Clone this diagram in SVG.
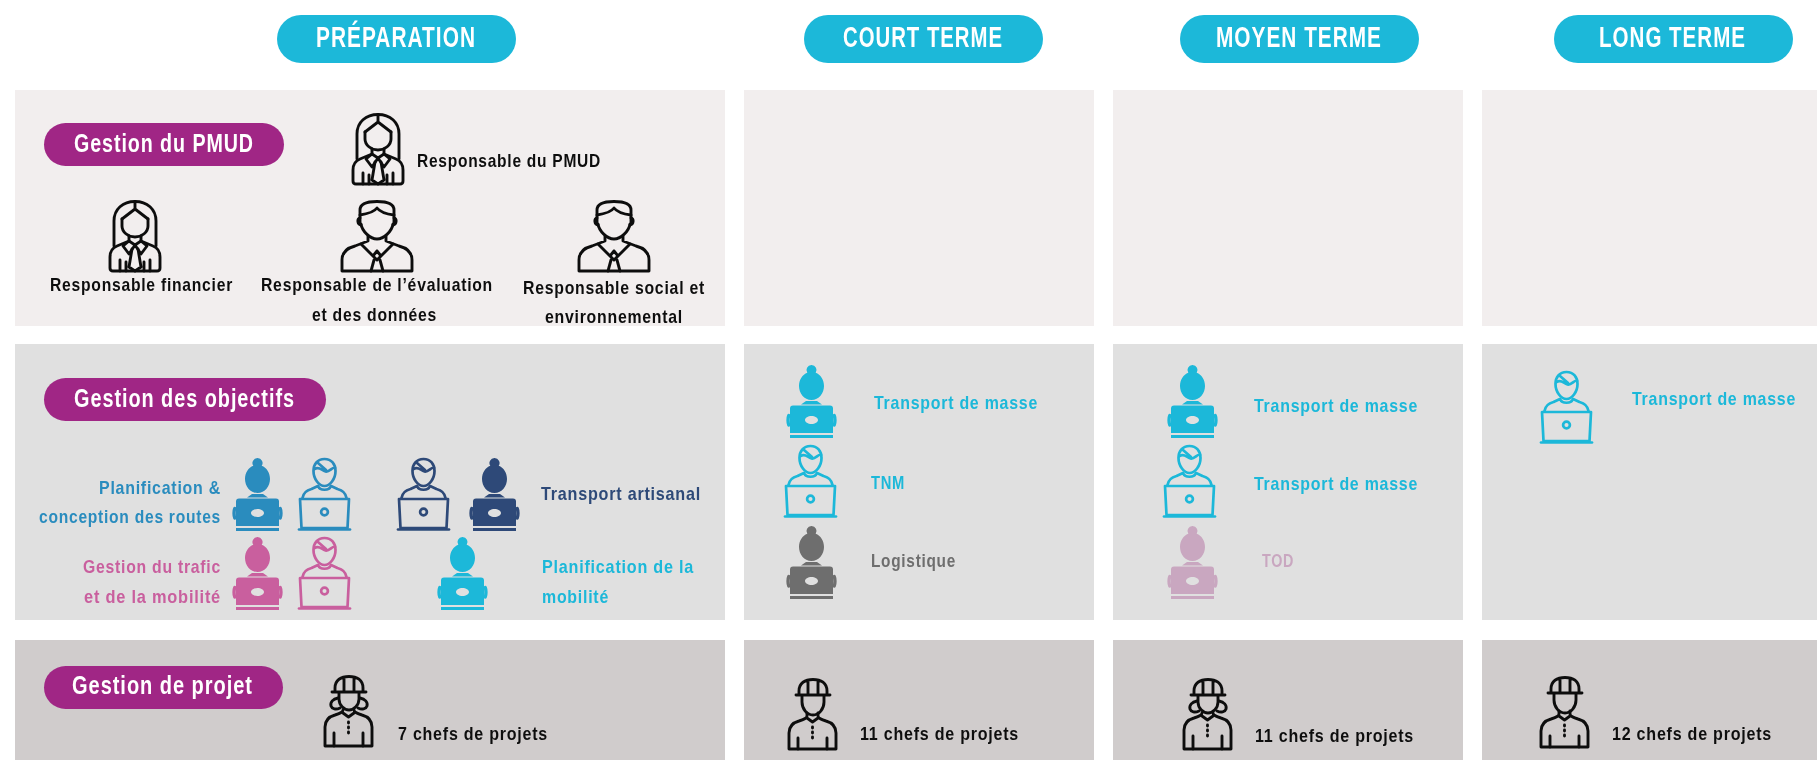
<svg xmlns="http://www.w3.org/2000/svg" width="1817" height="760" viewBox="0 0 1817 760">
<style>
text{font-family:"Liberation Sans Narrow","Liberation Sans",Arial,sans-serif;font-weight:700}
.h{fill:#fff;font-size:29px;letter-spacing:1.4px}
.g{fill:#fff;font-size:25px;letter-spacing:1.2px}
.t{font-size:19px;letter-spacing:.9px}
.k{fill:#111}
.cy{fill:#1cb8d9}.bl{fill:#2a8cbe}.dk{fill:#2d4a78}.pk{fill:#c95f9e}.gr{fill:#6e6e6e}.lv{fill:#c9a7c0}
.p1{fill:#f2eeee}.p2{fill:#e0e0e0}.p3{fill:#d0cccc}
.pc{fill:#1cb8d9}.pp{fill:#a02885}
.ln{fill:none;stroke:currentColor;stroke-width:2.9;stroke-linecap:round;stroke-linejoin:round}
.ln2{fill:none;stroke:currentColor;stroke-width:2.7;stroke-linecap:round;stroke-linejoin:round}
</style>
<defs>
<filter id="soft" x="0" y="0" width="100%" height="100%"><feGaussianBlur stdDeviation="0.5"/></filter>
<g id="solid">
<path fill="currentColor" fill-rule="evenodd" d="M24.500 0a5 5 0 0 1 4.200 7.800C33.500 9.500 37 15 37 21c0 7-5 14-12.500 14S12 28 12 21c0-6 3.500-11.500 8.300-13.200A5 5 0 0 1 24.500 0ZM19 36h11l5 3.500H14ZM6 40.500h37a3 3 0 0 1 3 3V68H3V43.500a3 3 0 0 1 3-3ZM24.500 51c-3.500 0-6.500 2-6.500 4s3 4 6.500 4 6.500-2 6.500-4-3-4-6.500-4ZM3 70h43v3H3Z"/>
<path fill="none" stroke="currentColor" stroke-width="3.400" stroke-linecap="round" d="M1.800 50.500c-1 2-1 7.500 0 9.500M47.200 50.500c1 2 1 7.500 0 9.500"/>
</g>
<g id="out" class="ln2">
<path d="M26.500 1C19.500 1 15.500 6 15.500 13c0 8 5.500 15 11 15s11-7 11-15C37.500 6 33.500 1 26.500 1Z"/>
<path d="M16.500 11c5-3 7 1.500 11 2.500s7-5 9.500-3.500M20 5l8 7"/>
<path d="M4.500 40c1-6 5-8 9-9l6.500-3c2 5 11 5 13 0l6.500 3c4 1 8 3 9 9"/>
<path d="M2 41H51L49.500 70H3.500Z"/>
<path d="M1 71.500H52"/>
<circle cx="26.500" cy="54" r="3.400"/>
</g>
<g id="wom" class="ln">
<path d="M5 46V21C5 9 14 1.500 26 1.500S47 9 47 21V46"/>
<path d="M26 1.500V9M13 19l13-10 13 10"/>
<path d="M13 19v7c0 6 6 11 13 11s13-5 13-11v-7"/>
<path d="M20 36v5l-12 5c-5 2-7 6-7 11v11c0 2 1 3 3 3H48c2 0 3-1 3-3V57c0-5-2-9-7-11L32 41v-5"/>
<path d="M20 41l-6 5 6 8 6-9 6 9 6-8-6-5-6 4z"/>
<path d="M23 49l-3 18 6 4 6-4-3-18M11 60v11M41 60v11M17 62v9M35 62v9"/>
</g>
<g id="man" class="ln">
<path d="M19 22V10C19 4 25 1.500 36 1.500S53 4 53 10V22"/>
<path d="M19 15c7-1 14-3 17-7 3 4 9 6 17 7"/>
<path d="M19 18c-3 0-3 6 1 7M53 18c3 0 3 6-1 7"/>
<path d="M20 24c1 7 9 15 16 15s15-8 16-15"/>
<path d="M27 36v5l-13 5C6 48 1 52 1 60v11H71V60c0-8-5-12-13-14L45 41v-5"/>
<path d="M20 44l12 12 4-5 4 5 12-12M32 56l4 4 4-4-4-5M33 60l-3 11M39 60l3 11"/>
</g>
<g id="wkf" class="ln">
<path d="M11 16V13C11 5 17 1.500 25 1.500S39 5 39 13v3M8 17H42M20 3v13M30 3v13"/>
<path d="M15 18v6c0 6 5 11 10 11s10-5 10-11v-6"/>
<path d="M14 23c-5 1-8 4-7 8 1 3 5 4 9 2M36 23c5 1 8 4 7 8-1 3-5 4-9 2"/>
<path d="M19 35c0 2-2 3-8 5C4 42 1 46 1 52V71H48V52c0-6-3-10-10-12-6-2-8-3-8-5"/>
<path d="M19 38l5.500 4 5.500-4M10 58v13M39 58v13"/>
<path d="M24.500 47v1M24.500 52v1M24.500 57v1"/>
</g>
<g id="wkm" class="ln">
<path d="M11 16V13C11 5 17 1.500 25 1.500S39 5 39 13v3M8 17H42M20 3v13M30 3v13"/>
<path d="M14 18v6c0 7 5 13 11 13s11-6 11-13v-6"/>
<path d="M19 35v3c0 2-2 3-8 5C4 45 1 49 1 55V71H48V55c0-6-3-10-10-12-6-2-8-3-8-5v-3"/>
<path d="M19 40l5.500 4 5.500-4M10 60v11M39 60v11"/>
<path d="M24.500 49v1M24.500 54v1M24.500 59v1"/>
</g>
</defs>
<rect width="1817" height="760" fill="#fff"/>
<g filter="url(#soft)">
<g id="connectors"></g>
<g id="panels">
<rect class="p1" x="15" y="90" width="710" height="236"/>
<rect class="p1" x="744" y="90" width="350" height="236"/>
<rect class="p1" x="1113" y="90" width="350" height="236"/>
<rect class="p1" x="1482" y="90" width="335" height="236"/>
<rect class="p2" x="15" y="344" width="710" height="276"/>
<rect class="p2" x="744" y="344" width="350" height="276"/>
<rect class="p2" x="1113" y="344" width="350" height="276"/>
<rect class="p2" x="1482" y="344" width="335" height="276"/>
<rect class="p3" x="15" y="640" width="710" height="120"/>
<rect class="p3" x="744" y="640" width="350" height="120"/>
<rect class="p3" x="1113" y="640" width="350" height="120"/>
<rect class="p3" x="1482" y="640" width="335" height="120"/>
</g>
<g id="header-preparation"><rect class="pc" x="277" y="15" width="239" height="48" rx="24"/><text class="h" x="316" y="47" textLength="160" lengthAdjust="spacingAndGlyphs">PRÉPARATION</text></g>
<g id="header-court"><rect class="pc" x="804" y="15" width="239" height="48" rx="24"/><text class="h" x="843" y="47" textLength="160" lengthAdjust="spacingAndGlyphs">COURT TERME</text></g>
<g id="header-moyen"><rect class="pc" x="1180" y="15" width="239" height="48" rx="24"/><text class="h" x="1216" y="47" textLength="166" lengthAdjust="spacingAndGlyphs">MOYEN TERME</text></g>
<g id="header-long"><rect class="pc" x="1554" y="15" width="239" height="48" rx="24"/><text class="h" x="1599" y="47" textLength="147" lengthAdjust="spacingAndGlyphs">LONG TERME</text></g>
<g id="pill-pmud"><rect class="pp" x="44" y="123" width="240" height="43" rx="21.500"/><text class="g" x="74" y="152" textLength="180" lengthAdjust="spacingAndGlyphs">Gestion du PMUD</text></g>
<g id="pill-objectifs"><rect class="pp" x="44" y="378" width="282" height="43" rx="21.500"/><text class="g" x="74" y="407" textLength="221" lengthAdjust="spacingAndGlyphs">Gestion des objectifs</text></g>
<g id="pill-projet"><rect class="pp" x="44" y="666" width="239" height="43" rx="21.500"/><text class="g" x="72" y="694" textLength="181" lengthAdjust="spacingAndGlyphs">Gestion de projet</text></g>
<g id="resp-pmud" color="#111"><use href="#wom" x="352" y="113"/><text class="t k" x="417" y="167" textLength="184" lengthAdjust="spacingAndGlyphs">Responsable du PMUD</text></g>
<g id="resp-financier" color="#111"><use href="#wom" x="109" y="200"/><text class="t k" x="50" y="291" textLength="183" lengthAdjust="spacingAndGlyphs">Responsable financier</text></g>
<g id="resp-evaluation" color="#111"><use href="#man" x="341" y="200"/><text class="t k" x="261" y="291" textLength="232" lengthAdjust="spacingAndGlyphs">Responsable de l’évaluation</text><text class="t k" x="312" y="321" textLength="125" lengthAdjust="spacingAndGlyphs">et des données</text></g>
<g id="resp-social" color="#111"><use href="#man" x="578" y="200"/><text class="t k" x="523" y="294" textLength="182" lengthAdjust="spacingAndGlyphs">Responsable social et</text><text class="t k" x="545" y="323" textLength="138" lengthAdjust="spacingAndGlyphs">environnemental</text></g>
<g id="obj-routes" color="#2a8cbe"><use href="#solid" x="233" y="458"/><use href="#out" x="298" y="458"/><text class="t bl" x="99" y="494" textLength="122" lengthAdjust="spacingAndGlyphs">Planification &amp;</text><text class="t bl" x="39" y="523" textLength="182" lengthAdjust="spacingAndGlyphs">conception des routes</text></g>
<g id="obj-artisanal" color="#2d4a78"><use href="#out" x="397" y="458"/><use href="#solid" x="470" y="458"/><text class="t dk" x="541" y="500" textLength="160" lengthAdjust="spacingAndGlyphs">Transport artisanal</text></g>
<g id="obj-trafic" color="#c95f9e"><use href="#solid" x="233" y="537"/><use href="#out" x="298" y="537"/><text class="t pk" x="83" y="573" textLength="138" lengthAdjust="spacingAndGlyphs">Gestion du trafic</text><text class="t pk" x="84" y="603" textLength="137" lengthAdjust="spacingAndGlyphs">et de la mobilité</text></g>
<g id="obj-mobilite" color="#1cb8d9"><use href="#solid" x="438" y="537"/><text class="t cy" x="542" y="573" textLength="152" lengthAdjust="spacingAndGlyphs">Planification de la</text><text class="t cy" x="542" y="603" textLength="67" lengthAdjust="spacingAndGlyphs">mobilité</text></g>
<g id="ct-masse" color="#1cb8d9"><use href="#solid" x="787" y="365"/><text class="t cy" x="874" y="409" textLength="164" lengthAdjust="spacingAndGlyphs">Transport de masse</text></g>
<g id="ct-tnm" color="#1cb8d9"><use href="#out" x="784" y="445"/><text class="t cy" x="871" y="489" textLength="34" lengthAdjust="spacingAndGlyphs">TNM</text></g>
<g id="ct-logistique" color="#6e6e6e"><use href="#solid" x="787" y="526"/><text class="t gr" x="871" y="567" textLength="85" lengthAdjust="spacingAndGlyphs">Logistique</text></g>
<g id="mt-masse1" color="#1cb8d9"><use href="#solid" x="1168" y="365"/><text class="t cy" x="1254" y="412" textLength="164" lengthAdjust="spacingAndGlyphs">Transport de masse</text></g>
<g id="mt-masse2" color="#1cb8d9"><use href="#out" x="1163" y="445"/><text class="t cy" x="1254" y="490" textLength="164" lengthAdjust="spacingAndGlyphs">Transport de masse</text></g>
<g id="mt-tod" color="#c9a7c0"><use href="#solid" x="1168" y="526"/><text class="t lv" x="1262" y="567" textLength="32" lengthAdjust="spacingAndGlyphs">TOD</text></g>
<g id="lt-masse" color="#1cb8d9"><use href="#out" x="1540" y="371"/><text class="t cy" x="1632" y="405" textLength="164" lengthAdjust="spacingAndGlyphs">Transport de masse</text></g>
<g id="chefs-prep" color="#111"><use href="#wkf" x="324" y="675"/><text class="t k" x="398" y="740" textLength="150" lengthAdjust="spacingAndGlyphs">7 chefs de projets</text></g>
<g id="chefs-court" color="#111"><use href="#wkm" x="788" y="678"/><text class="t k" x="860" y="740" textLength="159" lengthAdjust="spacingAndGlyphs">11 chefs de projets</text></g>
<g id="chefs-moyen" color="#111"><use href="#wkf" x="1183" y="678"/><text class="t k" x="1255" y="742" textLength="159" lengthAdjust="spacingAndGlyphs">11 chefs de projets</text></g>
<g id="chefs-long" color="#111"><use href="#wkm" x="1540" y="676"/><text class="t k" x="1612" y="740" textLength="160" lengthAdjust="spacingAndGlyphs">12 chefs de projets</text></g>
</g>
</svg>
